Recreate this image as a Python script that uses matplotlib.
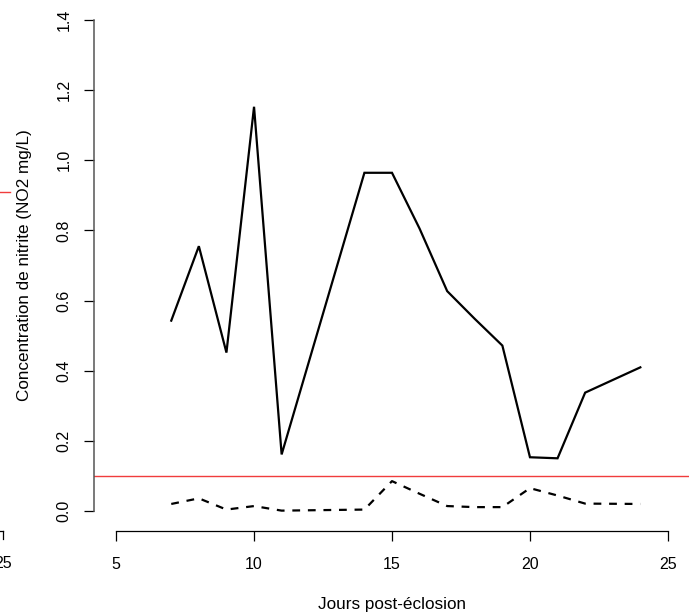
import matplotlib
matplotlib.use("Agg")
import matplotlib.pyplot as plt
from matplotlib.lines import Line2D

# data
jours = [7, 8, 9, 10, 11, 14, 15, 16, 17, 18, 19, 20, 21, 22, 24]
nitrite_moy = [0.543, 0.755, 0.452, 1.152, 0.162, 0.964, 0.964, 0.805,
               0.627, 0.548, 0.472, 0.154, 0.151, 0.338, 0.410]
nitrite_bas = [0.021, 0.037, 0.005, 0.015, 0.002, 0.005, 0.086, 0.050,
               0.015, 0.012, 0.012, 0.066, 0.045, 0.022, 0.021]
seuil = 0.1
x_ticks = [5, 10, 15, 20, 25]
y_ticks = [0.0, 0.2, 0.4, 0.6, 0.8, 1.0, 1.2, 1.4]

plt.rcParams['font.family'] = ['Liberation Sans', 'DejaVu Sans']
W, H = 689, 613
fig = plt.figure(figsize=(W / 100, H / 100), dpi=100)

# plot region like R (4% padding around 5..25 and 0..1.4)
ax = fig.add_axes([94 / W, 82 / H, 596 / W, 531 / H])
ax.set_xlim(4.2, 25.8)
ax.set_ylim(-0.056, 1.456)

ax.plot(jours, nitrite_moy, color='black', lw=1.6, solid_joinstyle='miter')
ax.plot(jours, nitrite_bas, color='black', lw=1.6, linestyle=(0, (3.5, 3.5)))
ax.axhline(seuil, color='#f03c3c', lw=1.0)

for s in ['top', 'right']:
    ax.spines[s].set_visible(False)
ax.spines['left'].set_bounds(0, 1.4)
ax.spines['bottom'].set_bounds(5, 25)
ax.spines['left'].set_color('#555555')
ax.spines['left'].set_linewidth(1.1)
ax.spines['bottom'].set_linewidth(0.9)

ax.set_xticks(x_ticks)
ax.set_xticklabels([str(t) for t in x_ticks])
ax.set_yticks(y_ticks)
ax.set_yticklabels(['%.1f' % t for t in y_ticks], rotation=90, va='center')
ax.tick_params(axis='both', direction='out', length=7, width=0.9, labelsize=11.5)
ax.tick_params(axis='x', pad=12)
ax.tick_params(axis='y', pad=9)

ax.set_xlabel('Jours post-éclosion', fontsize=12.3, labelpad=18)
ax.set_ylabel('Concentration de nitrite (NO2 mg/L)', fontsize=12.3, labelpad=18)

# leftovers from another plot at the left edge
fig.text(3 / W, 1 - 563 / H, '25', fontsize=11.5, ha='center', va='center')
fig.add_artist(Line2D([-5 / W, 3 / W], [1 - 531 / H, 1 - 531 / H], color='black', lw=0.9))
fig.add_artist(Line2D([3 / W, 3 / W], [1 - 531 / H, 1 - 539 / H], color='black', lw=0.9))
fig.add_artist(Line2D([0, 10 / W], [1 - 192 / H, 1 - 192 / H], color='#f03c3c', lw=1.0))

fig.savefig('out.png', dpi=100)
